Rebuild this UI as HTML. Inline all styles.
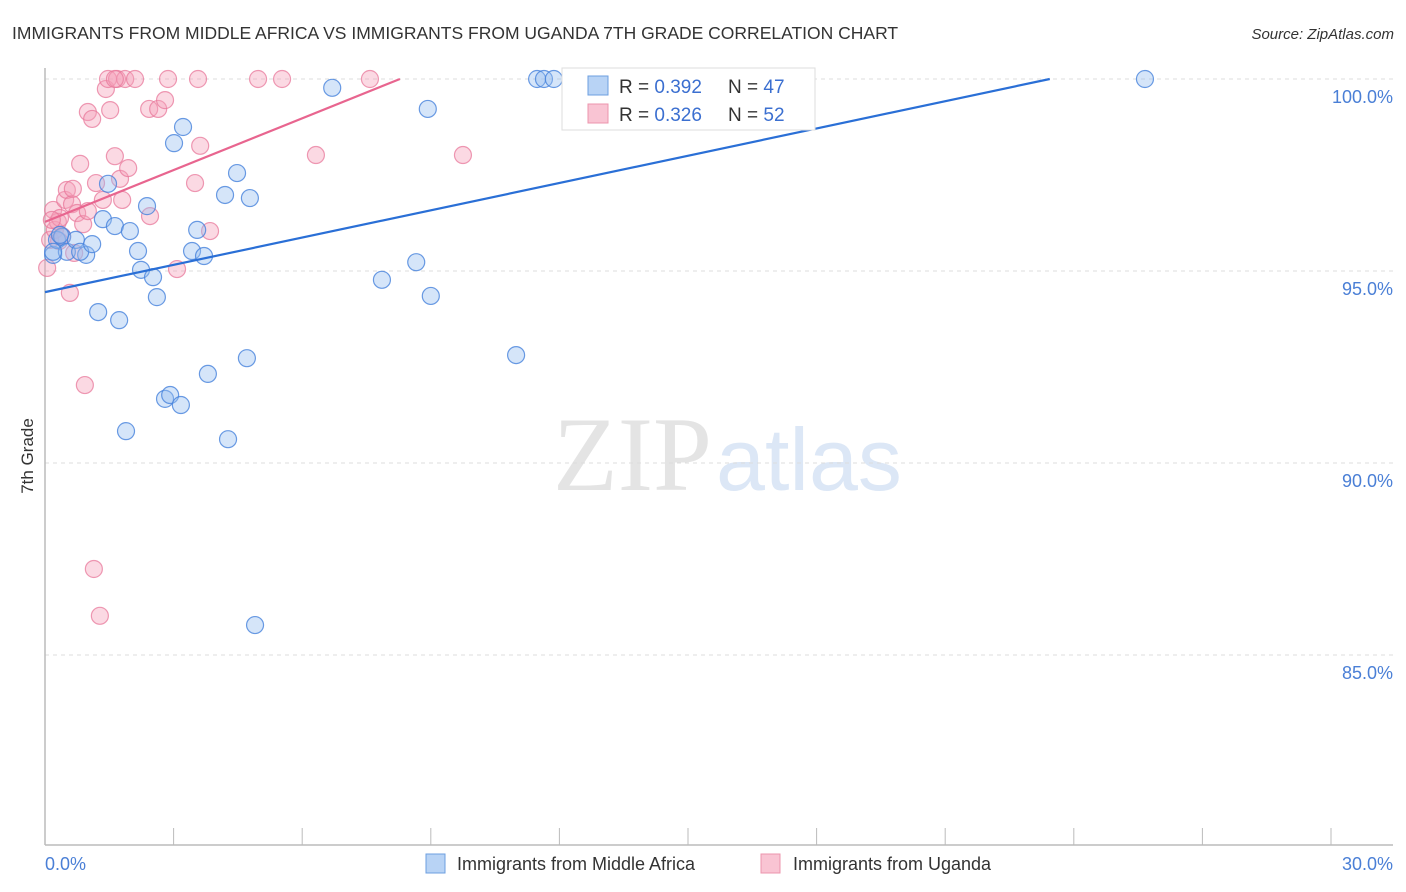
<!DOCTYPE html>
<html><head><meta charset="utf-8"><style>
body{margin:0;background:#fff;font-family:"Liberation Sans",sans-serif}
svg{display:block}
</style></head><body>
<svg id="chart" width="1406" height="892" xmlns="http://www.w3.org/2000/svg">
<text x="12" y="39" font-size="17.5" fill="#333" font-family="Liberation Sans, sans-serif">IMMIGRANTS FROM MIDDLE AFRICA VS IMMIGRANTS FROM UGANDA 7TH GRADE CORRELATION CHART</text>
<text x="1394" y="39" font-size="15" fill="#333" font-style="italic" text-anchor="end">Source: ZipAtlas.com</text>
<g>
<text x="553" y="490" font-size="106" fill="#e4e4e4" font-family="Liberation Serif, serif">ZIP</text>
<text x="716" y="490" font-size="88" fill="#dce7f6" font-family="Liberation Sans, sans-serif">atlas</text>
</g>
<g id="grid"></g>
<g id="axes"></g>
<g id="points"></g>
<g id="trends"></g>
<text transform="translate(33,456) rotate(-90)" font-size="17" fill="#333" text-anchor="middle">7th Grade</text>
<g>
<rect x="562" y="68" width="253" height="62" fill="#fff" stroke="#ddd"/>
<rect x="588" y="76" width="20" height="19" fill="#b8d3f5" stroke="#6d9fe0"/>
<rect x="588" y="104" width="20" height="19" fill="#f9c4d3" stroke="#ec95ad"/>
<text x="619" y="93" font-size="19" fill="#333">R = <tspan fill="#3b6fd0">0.392</tspan></text>
<text x="728" y="93" font-size="19" fill="#333">N = <tspan fill="#3b6fd0">47</tspan></text>
<text x="619" y="121" font-size="19" fill="#333">R = <tspan fill="#3b6fd0">0.326</tspan></text>
<text x="728" y="121" font-size="19" fill="#333">N = <tspan fill="#3b6fd0">52</tspan></text>
</g>
<g>
<rect x="426" y="854" width="19" height="19" fill="#b8d3f5" stroke="#6d9fe0"/>
<text x="457" y="870" font-size="18" fill="#333">Immigrants from Middle Africa</text>
<rect x="761" y="854" width="19" height="19" fill="#f9c4d3" stroke="#ec95ad"/>
<text x="793" y="870" font-size="18" fill="#333">Immigrants from Uganda</text>
</g>
</svg>
<script>
const yTicks=[100,95,90,85];
const xTickLabels=["0.0%","30.0%"];
const blueX=[0.19,0.28,0.40,0.51,0.72,0.96,0.82,1.10,1.24,1.35,1.47,1.63,1.73,1.89,1.98,2.17,2.24,2.38,2.52,2.61,2.80,2.92,3.01,3.17,3.22,3.43,3.55,3.71,3.80,4.20,4.27,4.48,4.71,4.78,4.90,6.70,7.86,8.66,8.93,9.00,10.99,11.48,11.64,11.87,25.66,0.19,0.35];
const blueY=[95.42,95.81,95.89,95.50,95.81,95.42,95.50,95.70,93.93,96.35,97.27,96.17,93.72,90.83,96.04,95.52,95.03,96.69,94.84,94.32,91.67,91.77,98.33,91.51,98.75,95.52,96.07,95.39,92.32,96.98,90.62,97.55,92.73,96.90,85.78,99.77,94.77,95.23,99.22,94.35,92.81,100,100,100,100,95.50,95.94];
const pinkX=[0.05,0.12,0.19,0.23,0.30,0.35,0.40,0.47,0.51,0.58,0.63,0.65,0.75,0.82,0.89,0.93,1.00,1.00,1.10,1.14,1.19,1.28,1.35,1.42,1.47,1.52,1.63,1.68,1.75,1.80,1.87,1.94,2.10,2.43,2.45,2.64,2.80,2.87,3.08,3.50,3.57,3.62,3.85,4.97,5.53,6.32,7.58,9.75,0.33,0.16,1.63,0.68];
const pinkY=[95.08,95.81,96.59,96.07,96.28,96.38,95.91,96.85,97.11,94.43,96.74,97.14,96.51,97.79,96.22,92.03,99.14,96.56,98.96,87.24,97.29,86.02,96.85,99.74,100,99.19,97.99,100,97.40,96.85,100,97.68,100,99.22,96.43,99.22,99.45,100,95.05,97.29,100,98.26,96.04,100,100,98.02,100,98.02,95.78,96.33,100,95.47];
const trendBlue=[94.45,100];const trendBlueX=[0,23.44];
const trendPink=[96.28,100];const trendPinkX=[0,8.28];
const NS="http://www.w3.org/2000/svg";
function sx(v){return 45+v*(1331-45)/30;}
function sy(v){return 79+(100-v)*38.4;}
function mk(t,a,p){const e=document.createElementNS(NS,t);for(const k in a)e.setAttribute(k,a[k]);p.appendChild(e);return e;}
const grid=document.getElementById('grid'),axes=document.getElementById('axes'),pts=document.getElementById('points'),tr=document.getElementById('trends');
yTicks.forEach(v=>{
 const l=mk('line',{x1:45,x2:1393,y1:sy(v),y2:sy(v),stroke:'#ddd','stroke-dasharray':'4,4'},grid);
 
 
 const t=mk('text',{x:1393,y:sy(v)+24,'font-size':18,fill:'#4a7fd6','text-anchor':'end'},axes);
 t.textContent=v.toFixed(1)+'%';
 
 
});
const ax=mk('line',{x1:45,x2:1393,y1:845,y2:845,stroke:'#bbb','stroke-width':1.5},axes);


const ay=mk('line',{x1:45,x2:45,y1:68,y2:845,stroke:'#bbb','stroke-width':1.5},axes);


for(let i=1;i<=10;i++){const t=mk('line',{x1:sx(i*3),x2:sx(i*3),y1:828,y2:845,stroke:'#bbb'},axes);
 
 }
const xl0=mk('text',{x:45,y:870,'font-size':18,fill:'#4a7fd6'},axes);xl0.textContent=xTickLabels[0];


const xl1=mk('text',{x:1393,y:870,'font-size':18,fill:'#4a7fd6','text-anchor':'end'},axes);xl1.textContent=xTickLabels[1];


pinkX.forEach((x,i)=>{const c=mk('circle',{cx:sx(x),cy:sy(pinkY[i]),r:8.5,fill:'rgba(244,160,185,0.4)',stroke:'rgba(232,120,155,0.75)','stroke-width':1.2},pts);
 
 });
blueX.forEach((x,i)=>{const c=mk('circle',{cx:sx(x),cy:sy(blueY[i]),r:8.5,fill:'rgba(150,190,240,0.4)',stroke:'rgba(70,130,220,0.8)','stroke-width':1.2},pts);
 
 });
const lb=mk('line',{x1:sx(trendBlueX[0]),y1:sy(trendBlue[0]),x2:sx(trendBlueX[1]),y2:sy(trendBlue[1]),stroke:'#2a6fd6','stroke-width':2.2},tr);


const lp=mk('line',{x1:sx(trendPinkX[0]),y1:sy(trendPink[0]),x2:sx(trendPinkX[1]),y2:sy(trendPink[1]),stroke:'#e8658f','stroke-width':2.2},tr);


</script>
</body></html>
